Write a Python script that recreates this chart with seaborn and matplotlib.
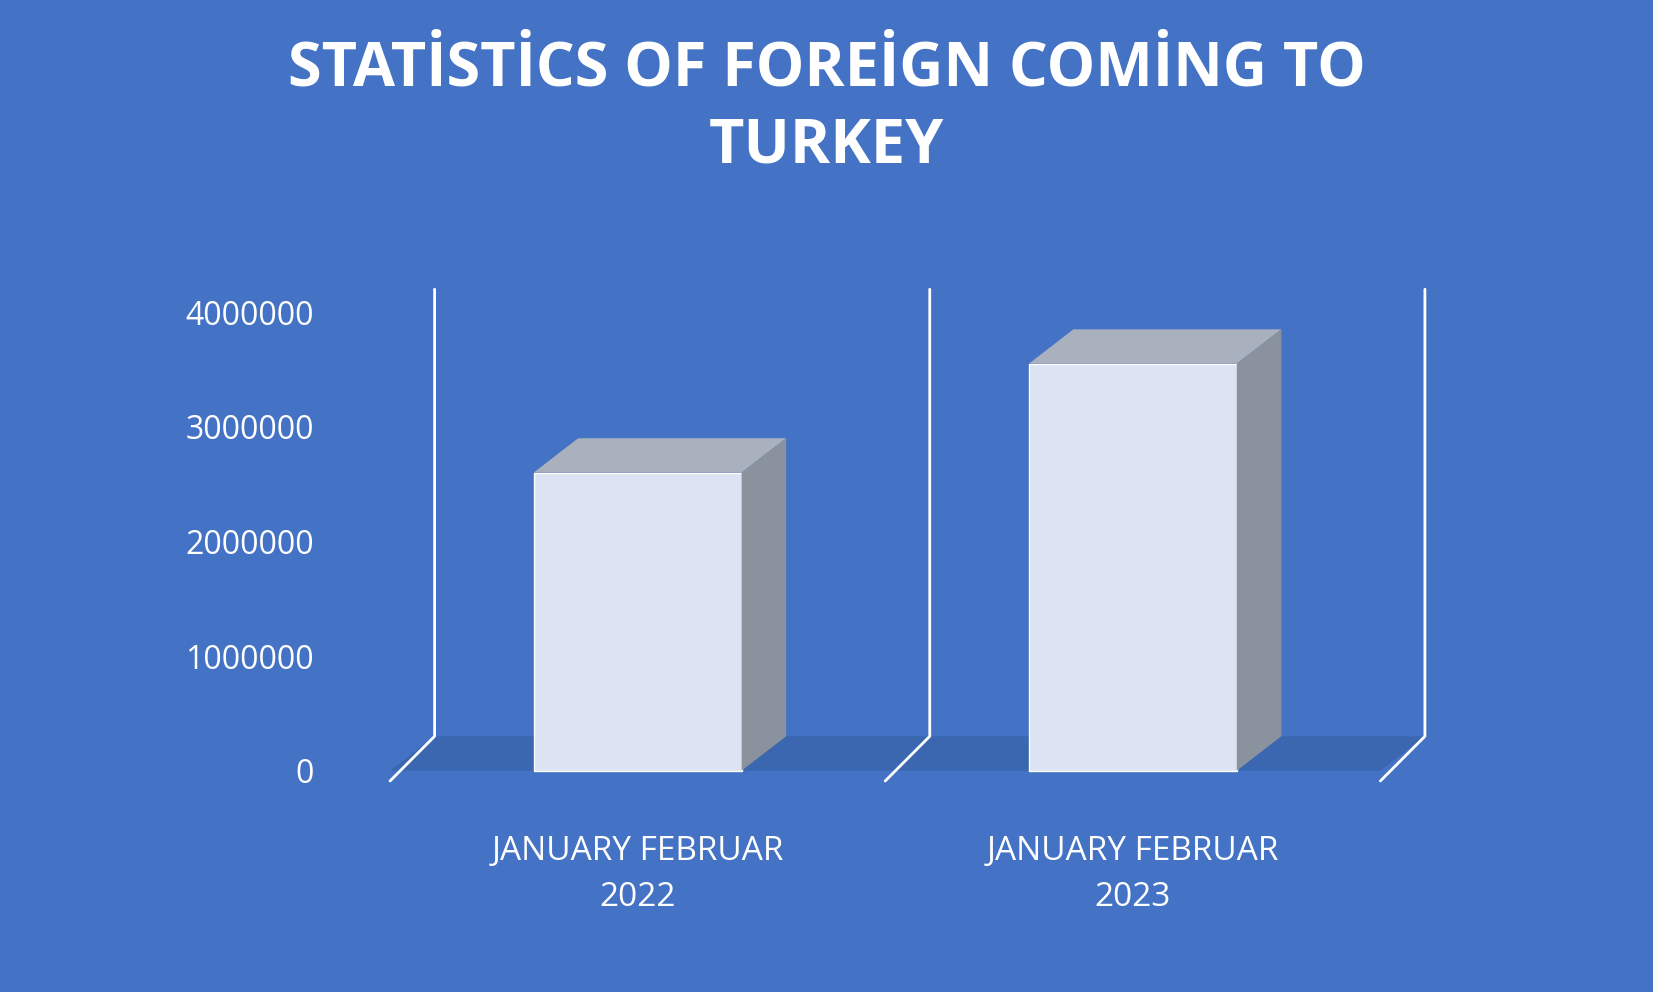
import matplotlib
matplotlib.use("Agg")
import matplotlib.pyplot as plt
import seaborn as sns
import pandas as pd
from matplotlib.patches import Polygon

periods = ["JANUARY FEBRUAR\n2022", "JANUARY FEBRUAR\n2023"]
visitors = [2600000, 3550000]
yticks = [0, 1000000, 2000000, 3000000, 4000000]

bg = "#4472C4"
sns.set_theme(style="white")
plt.rcParams["font.family"] = ["Open Sans", "DejaVu Sans"]

df = pd.DataFrame({"period": periods, "visitors": visitors})

fig, ax = plt.subplots(figsize=(16.53, 9.92), dpi=100)
fig.patch.set_facecolor(bg)
ax.set_facecolor(bg)

sns.barplot(data=df, x="period", y="visitors", color="#DCE3F2", width=0.42,
            saturation=1, ax=ax, zorder=3)

# faux 3D: top and side faces derived from each bar
dx, dy = 0.09, 300000
for p in ax.patches:
    x0, w, h = p.get_x(), p.get_width(), p.get_height()
    top = Polygon([(x0, h), (x0 + w, h), (x0 + w + dx, h + dy), (x0 + dx, h + dy)],
                  closed=True, facecolor="#A9B0BE", edgecolor="none", zorder=4)
    side = Polygon([(x0 + w, 0), (x0 + w + dx, dy), (x0 + w + dx, h + dy), (x0 + w, h)],
                   closed=True, facecolor="#8A929E", edgecolor="none", zorder=4)
    ax.add_patch(top)
    ax.add_patch(side)

# floor
ax.add_patch(Polygon([(-0.5, 0), (1.5, 0), (1.5 + dx, dy), (-0.5 + dx, dy)],
                     closed=True, facecolor="#3A67B0", edgecolor="none", zorder=1))
for xv in [-0.5, 0.5, 1.5]:
    ax.plot([xv, xv + dx, xv + dx], [-dy * 0.3, dy, 4200000], color="white", lw=2, zorder=2)

ax.set_ylim(-200000, 4300000)
ax.set_xlim(-0.62, 1.65)
ax.set_yticks(yticks)
ax.set_yticklabels([str(v) for v in yticks])
ax.tick_params(axis="y", colors="white", labelsize=23, length=0, pad=12)
ax.tick_params(axis="x", colors="white", labelsize=24, length=0, pad=30)
for lbl in ax.get_xticklabels():
    lbl.set_linespacing(1.5)
ax.set_xlabel("")
ax.set_ylabel("")
sns.despine(ax=ax, left=True, bottom=True)

fig.suptitle("STATİSTİCS OF FOREİGN COMİNG TO\nTURKEY", color="white",
             fontsize=44, fontweight="bold", y=0.96, linespacing=1.35)
fig.subplots_adjust(left=0.2, right=0.88, top=0.72, bottom=0.2)
fig.savefig("out.png", dpi=100, facecolor=bg)
